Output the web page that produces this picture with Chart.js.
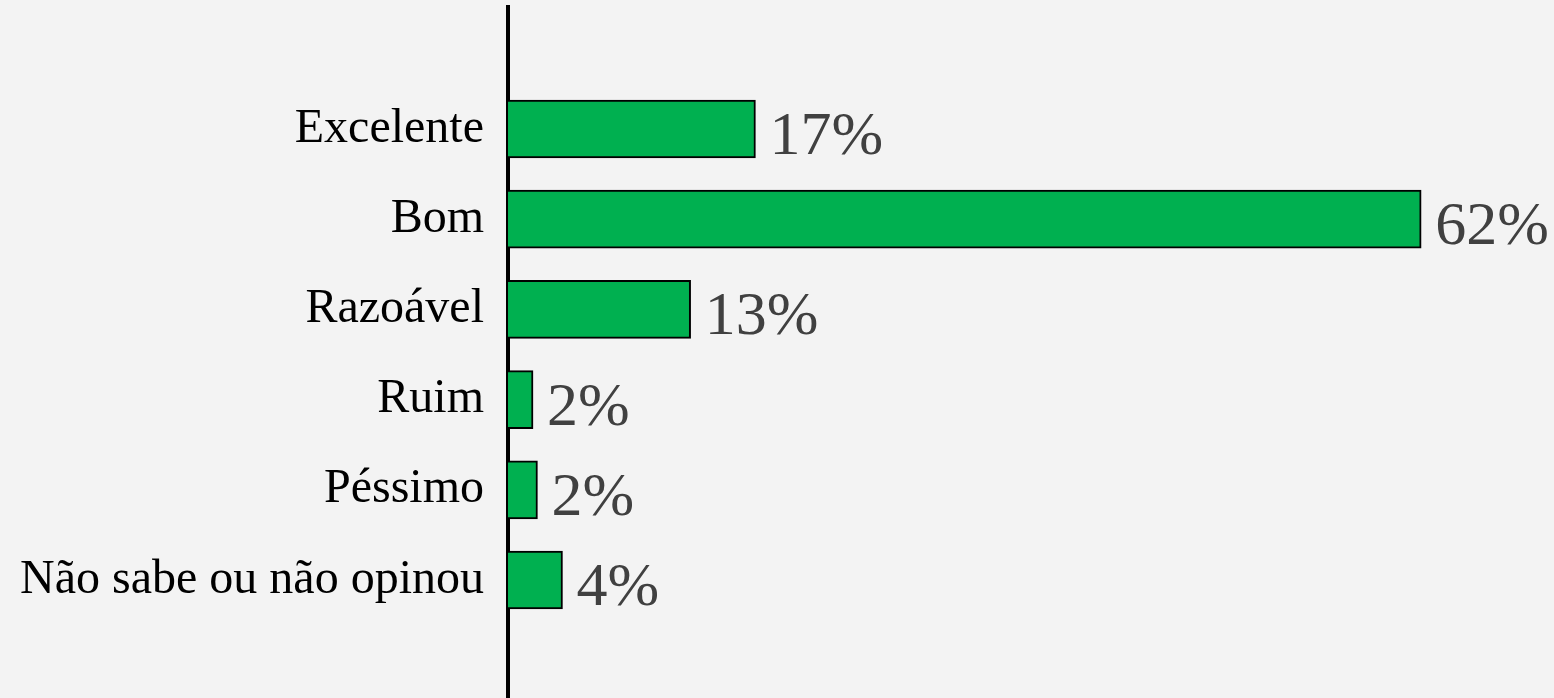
<!DOCTYPE html>
<html>
<head>
<meta charset="utf-8">
<script src="https://cdn.jsdelivr.net/npm/chart.js@4/dist/chart.umd.min.js"></script>
<style>
  html, body { margin: 0; padding: 0; background: #f3f3f3; }
  #wrap { width: 1554px; height: 698px; position: relative; }
</style>
</head>
<body>
<div id="wrap"><canvas id="c"></canvas></div>
<script>
const categories = ['Excelente', 'Bom', 'Razoável', 'Ruim', 'Péssimo', 'Não sabe ou não opinou'];
const values = [16.8, 62.0, 12.4, 1.7, 2.0, 3.7];
const valueLabels = ['17%', '62%', '13%', '2%', '2%', '4%'];

const points = values.map((v, i) => ({ x: v, y: i }));

const bgPlugin = {
  id: 'bg',
  beforeDraw(chart) {
    const ctx = chart.ctx;
    ctx.save();
    ctx.fillStyle = '#f3f3f3';
    ctx.fillRect(0, 0, chart.width, chart.height);
    ctx.restore();
  }
};

const valueLabelPlugin = {
  id: 'valueLabels',
  afterDatasetsDraw(chart) {
    const ctx = chart.ctx;
    const meta = chart.getDatasetMeta(0);
    ctx.save();
    ctx.font = '62px "Liberation Serif", "Times New Roman", serif';
    ctx.fillStyle = '#404040';
    ctx.textAlign = 'left';
    ctx.textBaseline = 'alphabetic';
    meta.data.forEach((el, i) => {
      ctx.fillText(valueLabels[i], el.x + 14, el.y + 25);
    });
    ctx.restore();
  }
};

new Chart(document.getElementById('c'), {
  type: 'bar',
  data: {
    datasets: [{
      data: points,
      backgroundColor: '#00B050',
      borderColor: '#000000',
      borderWidth: 2,
      borderSkipped: 'start',
      barThickness: 58
    }]
  },
  options: {
    indexAxis: 'y',
    responsive: true,
    maintainAspectRatio: false,
    animation: false,
    layout: { padding: { top: 7, right: 15, bottom: 0, left: 0 } },
    plugins: { legend: { display: false }, tooltip: { enabled: false } },
    scales: {
      x: {
        type: 'linear',
        display: false,
        min: 0,
        max: 70
      },
      y: {
        type: 'linear',
        reverse: true,
        offset: false,
        min: -1.3525,
        max: 6.308,
        afterFit(scale) {
          scale.width = 508;
          scale.paddingTop = 0;
          scale.paddingBottom = 0;
        },
        grid: { display: false, drawTicks: false },
        border: { display: true, color: '#000000', width: 4 },
        ticks: {
          stepSize: 1,
          autoSkip: false,
          padding: 24,
          color: '#000000',
          font: { family: '"Liberation Serif", "Times New Roman", serif', size: 48 },
          callback(value) {
            return (Number.isInteger(value) && value >= 0 && value < categories.length) ? categories[value] : '';
          }
        }
      }
    }
  },
  plugins: [bgPlugin, valueLabelPlugin]
});
</script>
</body>
</html>
